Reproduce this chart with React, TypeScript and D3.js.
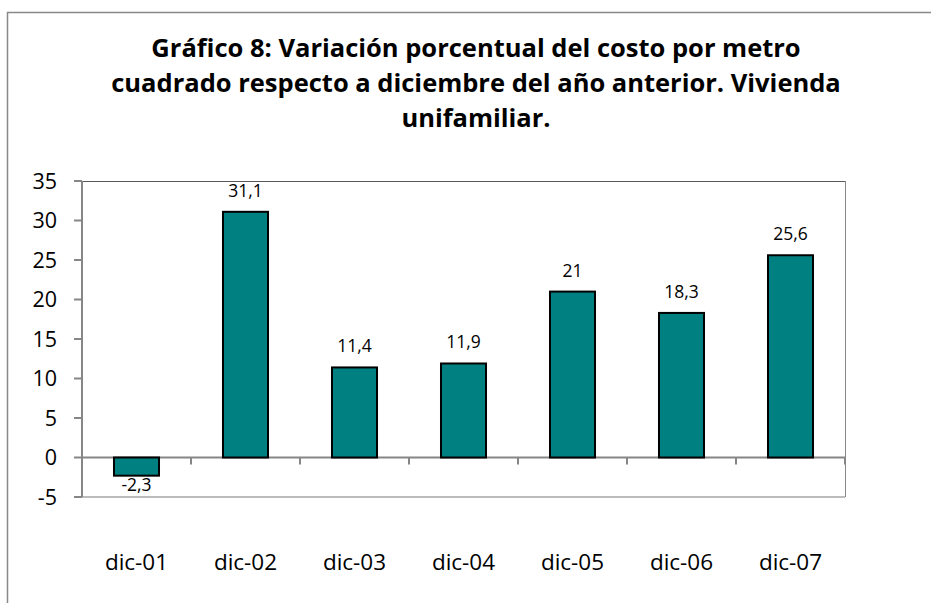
import React from 'react';
import * as d3 from 'd3';

const categories = ['dic-01', 'dic-02', 'dic-03', 'dic-04', 'dic-05', 'dic-06', 'dic-07'];
const values = [-2.3, 31.1, 11.4, 11.9, 21, 18.3, 25.6];
const yTicks = [-5, 0, 5, 10, 15, 20, 25, 30, 35];
const titleLines = [
  'Gráfico 8: Variación porcentual del costo por metro',
  'cuadrado respecto a diciembre del año anterior. Vivienda',
  'unifamiliar.',
];

const width = 931;
const height = 603;
const plot = { left: 82, right: 845, top: 181, bottom: 497 };
const font = 'Open Sans, sans-serif';

const fmt = (v: number) => String(v).replace('.', ',');

export default function App() {
  const x = d3.scaleBand<string>()
    .domain(categories)
    .range([plot.left, plot.right])
    .paddingInner(0.587)
    .paddingOuter(0.2935);

  const y = d3.scaleLinear()
    .domain([-5, 35])
    .range([plot.bottom, plot.top]);

  const step = x.step();
  const zero = y(0);

  return (
    <svg width={width} height={height} style={{ position: 'absolute', left: 0, top: 0, background: '#fff' }}>
      {/* chart border */}
      <line x1={7.5} y1={12} x2={7.5} y2={height} stroke="#888" strokeWidth={1.5} />
      <line x1={7} y1={12.5} x2={width} y2={12.5} stroke="#888" strokeWidth={1.5} />

      {/* title */}
      {titleLines.map((t, i) => (
        <text key={i} x={476} y={57 + i * 35} textAnchor="middle"
          fontFamily={font} fontWeight="bold" fontSize={25.5} fill="#000">{t}</text>
      ))}

      {/* plot frame */}
      <line x1={plot.left} y1={plot.top + 0.5} x2={plot.right} y2={plot.top + 0.5} stroke="#595959" strokeWidth={1} />
      <line x1={plot.right + 0.5} y1={plot.top} x2={plot.right + 0.5} y2={plot.bottom} stroke="#888" strokeWidth={1} />
      <line x1={plot.left} y1={plot.bottom} x2={plot.right} y2={plot.bottom} stroke="#a6a6a6" strokeWidth={1.5} />

      {/* y axis */}
      <line x1={plot.left} y1={plot.top} x2={plot.left} y2={plot.bottom} stroke="#868686" strokeWidth={2} />
      {yTicks.map(t => (
        <g key={t}>
          <line x1={plot.left - 8} y1={y(t)} x2={plot.left} y2={y(t)} stroke="#868686" strokeWidth={2} />
          <text x={57} y={y(t) + 7.8} textAnchor="end" fontFamily={font} fontSize={21.5} fill="#000">{t}</text>
        </g>
      ))}

      {/* zero axis with category ticks */}
      <line x1={plot.left} y1={zero} x2={plot.right} y2={zero} stroke="#868686" strokeWidth={2} />
      {categories.map((c, i) => (
        <line key={c} x1={plot.left + (i + 1) * step} y1={zero} x2={plot.left + (i + 1) * step} y2={zero + 7}
          stroke="#868686" strokeWidth={2} />
      ))}

      {/* bars */}
      {categories.map((c, i) => {
        const v = values[i];
        const y0 = Math.min(y(v), zero);
        const h = Math.abs(y(v) - zero);
        return (
          <rect key={c} x={x(c)} y={y0} width={x.bandwidth()} height={h}
            fill="#008080" stroke="#000" strokeWidth={2} />
        );
      })}

      {/* data labels */}
      {categories.map((c, i) => {
        const v = values[i];
        const cx = (x(c) as number) + x.bandwidth() / 2;
        const ly = v >= 0 ? y(v) - 15 : y(v) + 15;
        return (
          <text key={c} x={cx} y={ly} textAnchor="middle" fontFamily={font} fontSize={17.5} fill="#000">{fmt(v)}</text>
        );
      })}

      {/* category labels */}
      {categories.map(c => (
        <text key={c} x={(x(c) as number) + x.bandwidth() / 2} y={570} textAnchor="middle"
          fontFamily={font} fontSize={22.5} fill="#000">{c}</text>
      ))}
    </svg>
  );
}
